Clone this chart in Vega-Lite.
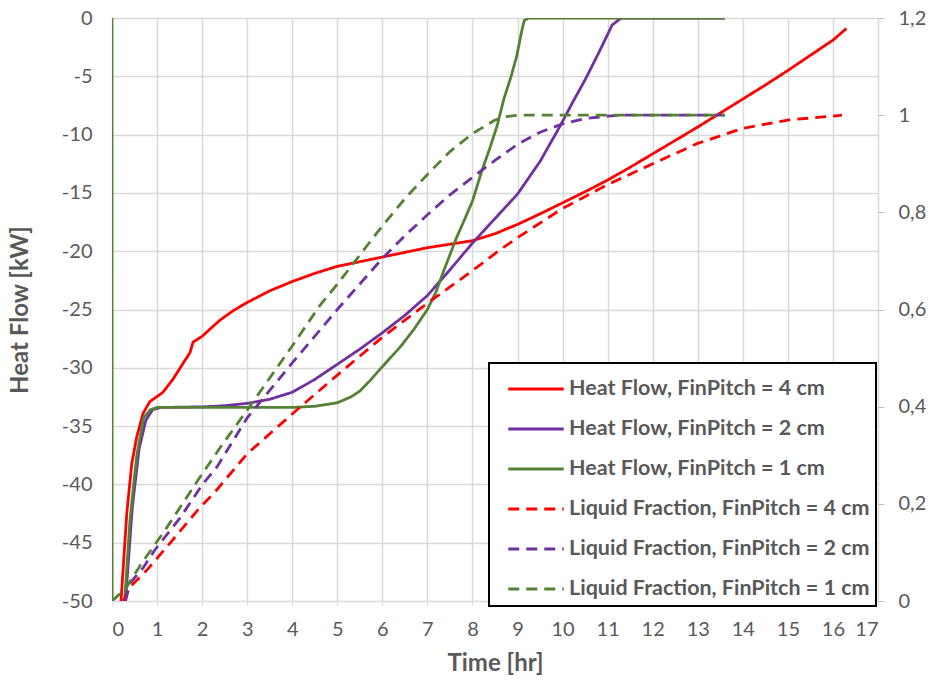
{
  "$schema": "https://vega.github.io/schema/vega-lite/v6.json",
  "width": 766,
  "height": 583,
  "autosize": {"type": "none"},
  "padding": {"left": 112, "top": 18, "right": 55, "bottom": 79},
  "background": "white",
  "config": {
    "view": {"stroke": null},
    "font": "Lato",
    "axis": {
      "labelFont": "Lato",
      "labelFontSize": 20,
      "labelColor": "#595959",
      "titleFont": "Lato",
      "titleFontSize": 24,
      "titleFontWeight": "bold",
      "titleColor": "#595959",
      "gridColor": "#d9d9d9",
      "gridWidth": 1.5,
      "domain": false
    }
  },
  "datasets": {
    "hf": [
      {"s": "Heat Flow, FinPitch = 4 cm", "t": 0.15, "v": -58},
      {"s": "Heat Flow, FinPitch = 4 cm", "t": 0.2, "v": -50},
      {"s": "Heat Flow, FinPitch = 4 cm", "t": 0.33, "v": -42.4},
      {"s": "Heat Flow, FinPitch = 4 cm", "t": 0.44, "v": -38.2},
      {"s": "Heat Flow, FinPitch = 4 cm", "t": 0.55, "v": -35.9},
      {"s": "Heat Flow, FinPitch = 4 cm", "t": 0.69, "v": -33.9},
      {"s": "Heat Flow, FinPitch = 4 cm", "t": 0.84, "v": -32.9},
      {"s": "Heat Flow, FinPitch = 4 cm", "t": 1.13, "v": -32.1},
      {"s": "Heat Flow, FinPitch = 4 cm", "t": 1.35, "v": -31.0},
      {"s": "Heat Flow, FinPitch = 4 cm", "t": 1.58, "v": -29.6},
      {"s": "Heat Flow, FinPitch = 4 cm", "t": 1.73, "v": -28.7},
      {"s": "Heat Flow, FinPitch = 4 cm", "t": 1.8, "v": -27.8},
      {"s": "Heat Flow, FinPitch = 4 cm", "t": 2.0, "v": -27.3},
      {"s": "Heat Flow, FinPitch = 4 cm", "t": 2.17, "v": -26.7},
      {"s": "Heat Flow, FinPitch = 4 cm", "t": 2.4, "v": -25.9},
      {"s": "Heat Flow, FinPitch = 4 cm", "t": 2.69, "v": -25.1},
      {"s": "Heat Flow, FinPitch = 4 cm", "t": 3.0, "v": -24.4},
      {"s": "Heat Flow, FinPitch = 4 cm", "t": 3.5, "v": -23.4},
      {"s": "Heat Flow, FinPitch = 4 cm", "t": 4.0, "v": -22.6},
      {"s": "Heat Flow, FinPitch = 4 cm", "t": 4.5, "v": -21.9},
      {"s": "Heat Flow, FinPitch = 4 cm", "t": 5.0, "v": -21.3},
      {"s": "Heat Flow, FinPitch = 4 cm", "t": 5.5, "v": -20.9},
      {"s": "Heat Flow, FinPitch = 4 cm", "t": 6.0, "v": -20.5},
      {"s": "Heat Flow, FinPitch = 4 cm", "t": 6.5, "v": -20.1},
      {"s": "Heat Flow, FinPitch = 4 cm", "t": 7.0, "v": -19.7},
      {"s": "Heat Flow, FinPitch = 4 cm", "t": 7.5, "v": -19.4},
      {"s": "Heat Flow, FinPitch = 4 cm", "t": 8.0, "v": -19.1},
      {"s": "Heat Flow, FinPitch = 4 cm", "t": 8.5, "v": -18.5},
      {"s": "Heat Flow, FinPitch = 4 cm", "t": 9.0, "v": -17.7},
      {"s": "Heat Flow, FinPitch = 4 cm", "t": 9.5, "v": -16.8},
      {"s": "Heat Flow, FinPitch = 4 cm", "t": 10.0, "v": -15.85},
      {"s": "Heat Flow, FinPitch = 4 cm", "t": 10.5, "v": -14.9},
      {"s": "Heat Flow, FinPitch = 4 cm", "t": 11.0, "v": -13.9},
      {"s": "Heat Flow, FinPitch = 4 cm", "t": 11.5, "v": -12.8},
      {"s": "Heat Flow, FinPitch = 4 cm", "t": 12.0, "v": -11.65},
      {"s": "Heat Flow, FinPitch = 4 cm", "t": 12.5, "v": -10.5},
      {"s": "Heat Flow, FinPitch = 4 cm", "t": 13.0, "v": -9.35},
      {"s": "Heat Flow, FinPitch = 4 cm", "t": 13.5, "v": -8.15},
      {"s": "Heat Flow, FinPitch = 4 cm", "t": 14.0, "v": -6.95},
      {"s": "Heat Flow, FinPitch = 4 cm", "t": 14.5, "v": -5.75},
      {"s": "Heat Flow, FinPitch = 4 cm", "t": 15.0, "v": -4.5},
      {"s": "Heat Flow, FinPitch = 4 cm", "t": 15.5, "v": -3.2},
      {"s": "Heat Flow, FinPitch = 4 cm", "t": 16.0, "v": -1.9},
      {"s": "Heat Flow, FinPitch = 4 cm", "t": 16.3, "v": -0.9},

      {"s": "Heat Flow, FinPitch = 2 cm", "t": 0.25, "v": -58},
      {"s": "Heat Flow, FinPitch = 2 cm", "t": 0.3, "v": -50},
      {"s": "Heat Flow, FinPitch = 2 cm", "t": 0.45, "v": -42},
      {"s": "Heat Flow, FinPitch = 2 cm", "t": 0.6, "v": -37},
      {"s": "Heat Flow, FinPitch = 2 cm", "t": 0.75, "v": -34.5},
      {"s": "Heat Flow, FinPitch = 2 cm", "t": 0.9, "v": -33.6},
      {"s": "Heat Flow, FinPitch = 2 cm", "t": 1.1, "v": -33.4},
      {"s": "Heat Flow, FinPitch = 2 cm", "t": 2.0, "v": -33.35},
      {"s": "Heat Flow, FinPitch = 2 cm", "t": 2.5, "v": -33.25},
      {"s": "Heat Flow, FinPitch = 2 cm", "t": 3.0, "v": -33.05},
      {"s": "Heat Flow, FinPitch = 2 cm", "t": 3.5, "v": -32.7},
      {"s": "Heat Flow, FinPitch = 2 cm", "t": 4.0, "v": -32.1},
      {"s": "Heat Flow, FinPitch = 2 cm", "t": 4.5, "v": -31.0},
      {"s": "Heat Flow, FinPitch = 2 cm", "t": 5.0, "v": -29.7},
      {"s": "Heat Flow, FinPitch = 2 cm", "t": 5.5, "v": -28.4},
      {"s": "Heat Flow, FinPitch = 2 cm", "t": 6.0, "v": -27.0},
      {"s": "Heat Flow, FinPitch = 2 cm", "t": 6.5, "v": -25.5},
      {"s": "Heat Flow, FinPitch = 2 cm", "t": 7.0, "v": -23.8},
      {"s": "Heat Flow, FinPitch = 2 cm", "t": 7.5, "v": -21.6},
      {"s": "Heat Flow, FinPitch = 2 cm", "t": 8.0, "v": -19.3},
      {"s": "Heat Flow, FinPitch = 2 cm", "t": 8.5, "v": -17.2},
      {"s": "Heat Flow, FinPitch = 2 cm", "t": 9.0, "v": -15.1},
      {"s": "Heat Flow, FinPitch = 2 cm", "t": 9.5, "v": -12.3},
      {"s": "Heat Flow, FinPitch = 2 cm", "t": 9.94, "v": -9.3},
      {"s": "Heat Flow, FinPitch = 2 cm", "t": 10.2, "v": -7.4},
      {"s": "Heat Flow, FinPitch = 2 cm", "t": 10.5, "v": -5.3},
      {"s": "Heat Flow, FinPitch = 2 cm", "t": 10.8, "v": -3.0},
      {"s": "Heat Flow, FinPitch = 2 cm", "t": 11.1, "v": -0.6},
      {"s": "Heat Flow, FinPitch = 2 cm", "t": 11.3, "v": 0},
      {"s": "Heat Flow, FinPitch = 2 cm", "t": 13.6, "v": 0},

      {"s": "Heat Flow, FinPitch = 1 cm", "t": 0, "v": 0},
      {"s": "Heat Flow, FinPitch = 1 cm", "t": 0.004, "v": -80},
      {"s": "Heat Flow, FinPitch = 1 cm", "t": 0.24, "v": -58},
      {"s": "Heat Flow, FinPitch = 1 cm", "t": 0.28, "v": -50},
      {"s": "Heat Flow, FinPitch = 1 cm", "t": 0.4, "v": -43},
      {"s": "Heat Flow, FinPitch = 1 cm", "t": 0.55, "v": -37.5},
      {"s": "Heat Flow, FinPitch = 1 cm", "t": 0.7, "v": -34.3},
      {"s": "Heat Flow, FinPitch = 1 cm", "t": 0.85, "v": -33.6},
      {"s": "Heat Flow, FinPitch = 1 cm", "t": 1.0, "v": -33.4},
      {"s": "Heat Flow, FinPitch = 1 cm", "t": 4.0, "v": -33.4},
      {"s": "Heat Flow, FinPitch = 1 cm", "t": 4.5, "v": -33.3},
      {"s": "Heat Flow, FinPitch = 1 cm", "t": 5.0, "v": -33.0},
      {"s": "Heat Flow, FinPitch = 1 cm", "t": 5.3, "v": -32.5},
      {"s": "Heat Flow, FinPitch = 1 cm", "t": 5.5, "v": -32.0},
      {"s": "Heat Flow, FinPitch = 1 cm", "t": 5.75, "v": -31.0},
      {"s": "Heat Flow, FinPitch = 1 cm", "t": 6.0, "v": -29.9},
      {"s": "Heat Flow, FinPitch = 1 cm", "t": 6.4, "v": -28.2},
      {"s": "Heat Flow, FinPitch = 1 cm", "t": 6.7, "v": -26.7},
      {"s": "Heat Flow, FinPitch = 1 cm", "t": 7.0, "v": -25.0},
      {"s": "Heat Flow, FinPitch = 1 cm", "t": 7.2, "v": -23.4},
      {"s": "Heat Flow, FinPitch = 1 cm", "t": 7.35, "v": -21.8},
      {"s": "Heat Flow, FinPitch = 1 cm", "t": 7.5, "v": -20.3},
      {"s": "Heat Flow, FinPitch = 1 cm", "t": 7.65, "v": -18.8},
      {"s": "Heat Flow, FinPitch = 1 cm", "t": 7.8, "v": -17.5},
      {"s": "Heat Flow, FinPitch = 1 cm", "t": 8.0, "v": -15.7},
      {"s": "Heat Flow, FinPitch = 1 cm", "t": 8.2, "v": -13.2},
      {"s": "Heat Flow, FinPitch = 1 cm", "t": 8.4, "v": -11.0},
      {"s": "Heat Flow, FinPitch = 1 cm", "t": 8.55, "v": -9.2},
      {"s": "Heat Flow, FinPitch = 1 cm", "t": 8.7, "v": -6.9},
      {"s": "Heat Flow, FinPitch = 1 cm", "t": 8.85, "v": -5.1},
      {"s": "Heat Flow, FinPitch = 1 cm", "t": 8.98, "v": -3.3},
      {"s": "Heat Flow, FinPitch = 1 cm", "t": 9.1, "v": -1.0},
      {"s": "Heat Flow, FinPitch = 1 cm", "t": 9.15, "v": -0.2},
      {"s": "Heat Flow, FinPitch = 1 cm", "t": 9.25, "v": 0},
      {"s": "Heat Flow, FinPitch = 1 cm", "t": 13.6, "v": 0}
    ],
    "lf": [
      {"s": "Liquid Fraction, FinPitch = 4 cm", "t": 0.25, "v": 0},
      {"s": "Liquid Fraction, FinPitch = 4 cm", "t": 0.4, "v": 0.029},
      {"s": "Liquid Fraction, FinPitch = 4 cm", "t": 0.78, "v": 0.064},
      {"s": "Liquid Fraction, FinPitch = 4 cm", "t": 1.35, "v": 0.126},
      {"s": "Liquid Fraction, FinPitch = 4 cm", "t": 1.9, "v": 0.187},
      {"s": "Liquid Fraction, FinPitch = 4 cm", "t": 2.29, "v": 0.225},
      {"s": "Liquid Fraction, FinPitch = 4 cm", "t": 3.0, "v": 0.303},
      {"s": "Liquid Fraction, FinPitch = 4 cm", "t": 4.0, "v": 0.385},
      {"s": "Liquid Fraction, FinPitch = 4 cm", "t": 5.0, "v": 0.465},
      {"s": "Liquid Fraction, FinPitch = 4 cm", "t": 6.0, "v": 0.543},
      {"s": "Liquid Fraction, FinPitch = 4 cm", "t": 7.0, "v": 0.613},
      {"s": "Liquid Fraction, FinPitch = 4 cm", "t": 8.0, "v": 0.68},
      {"s": "Liquid Fraction, FinPitch = 4 cm", "t": 8.6, "v": 0.722},
      {"s": "Liquid Fraction, FinPitch = 4 cm", "t": 9.0, "v": 0.748},
      {"s": "Liquid Fraction, FinPitch = 4 cm", "t": 10.0, "v": 0.808},
      {"s": "Liquid Fraction, FinPitch = 4 cm", "t": 11.0, "v": 0.857},
      {"s": "Liquid Fraction, FinPitch = 4 cm", "t": 12.0, "v": 0.90},
      {"s": "Liquid Fraction, FinPitch = 4 cm", "t": 13.0, "v": 0.942},
      {"s": "Liquid Fraction, FinPitch = 4 cm", "t": 14.0, "v": 0.973},
      {"s": "Liquid Fraction, FinPitch = 4 cm", "t": 15.0, "v": 0.99},
      {"s": "Liquid Fraction, FinPitch = 4 cm", "t": 16.0, "v": 0.998},
      {"s": "Liquid Fraction, FinPitch = 4 cm", "t": 16.2, "v": 1.0},

      {"s": "Liquid Fraction, FinPitch = 2 cm", "t": 0.3, "v": 0},
      {"s": "Liquid Fraction, FinPitch = 2 cm", "t": 0.4, "v": 0.037},
      {"s": "Liquid Fraction, FinPitch = 2 cm", "t": 0.69, "v": 0.068},
      {"s": "Liquid Fraction, FinPitch = 2 cm", "t": 0.95, "v": 0.105},
      {"s": "Liquid Fraction, FinPitch = 2 cm", "t": 1.51, "v": 0.171},
      {"s": "Liquid Fraction, FinPitch = 2 cm", "t": 2.0, "v": 0.239},
      {"s": "Liquid Fraction, FinPitch = 2 cm", "t": 2.33, "v": 0.276},
      {"s": "Liquid Fraction, FinPitch = 2 cm", "t": 3.0, "v": 0.377},
      {"s": "Liquid Fraction, FinPitch = 2 cm", "t": 4.0, "v": 0.49},
      {"s": "Liquid Fraction, FinPitch = 2 cm", "t": 5.0, "v": 0.60},
      {"s": "Liquid Fraction, FinPitch = 2 cm", "t": 6.0, "v": 0.705},
      {"s": "Liquid Fraction, FinPitch = 2 cm", "t": 6.5, "v": 0.752},
      {"s": "Liquid Fraction, FinPitch = 2 cm", "t": 7.0, "v": 0.795},
      {"s": "Liquid Fraction, FinPitch = 2 cm", "t": 7.5, "v": 0.836},
      {"s": "Liquid Fraction, FinPitch = 2 cm", "t": 8.0, "v": 0.872},
      {"s": "Liquid Fraction, FinPitch = 2 cm", "t": 8.5, "v": 0.907},
      {"s": "Liquid Fraction, FinPitch = 2 cm", "t": 9.0, "v": 0.94},
      {"s": "Liquid Fraction, FinPitch = 2 cm", "t": 9.5, "v": 0.965},
      {"s": "Liquid Fraction, FinPitch = 2 cm", "t": 10.0, "v": 0.982},
      {"s": "Liquid Fraction, FinPitch = 2 cm", "t": 10.5, "v": 0.993},
      {"s": "Liquid Fraction, FinPitch = 2 cm", "t": 11.0, "v": 0.998},
      {"s": "Liquid Fraction, FinPitch = 2 cm", "t": 11.3, "v": 1.0},
      {"s": "Liquid Fraction, FinPitch = 2 cm", "t": 13.6, "v": 1.0},

      {"s": "Liquid Fraction, FinPitch = 1 cm", "t": 0, "v": 0},
      {"s": "Liquid Fraction, FinPitch = 1 cm", "t": 0.3, "v": 0.025},
      {"s": "Liquid Fraction, FinPitch = 1 cm", "t": 0.4, "v": 0.04},
      {"s": "Liquid Fraction, FinPitch = 1 cm", "t": 0.66, "v": 0.078},
      {"s": "Liquid Fraction, FinPitch = 1 cm", "t": 1.18, "v": 0.146},
      {"s": "Liquid Fraction, FinPitch = 1 cm", "t": 1.91, "v": 0.249},
      {"s": "Liquid Fraction, FinPitch = 1 cm", "t": 2.44, "v": 0.321},
      {"s": "Liquid Fraction, FinPitch = 1 cm", "t": 3.0, "v": 0.393},
      {"s": "Liquid Fraction, FinPitch = 1 cm", "t": 4.0, "v": 0.525},
      {"s": "Liquid Fraction, FinPitch = 1 cm", "t": 4.62, "v": 0.609},
      {"s": "Liquid Fraction, FinPitch = 1 cm", "t": 5.0, "v": 0.652},
      {"s": "Liquid Fraction, FinPitch = 1 cm", "t": 5.4, "v": 0.70},
      {"s": "Liquid Fraction, FinPitch = 1 cm", "t": 6.0, "v": 0.772},
      {"s": "Liquid Fraction, FinPitch = 1 cm", "t": 6.5, "v": 0.828},
      {"s": "Liquid Fraction, FinPitch = 1 cm", "t": 7.0, "v": 0.878},
      {"s": "Liquid Fraction, FinPitch = 1 cm", "t": 7.5, "v": 0.925},
      {"s": "Liquid Fraction, FinPitch = 1 cm", "t": 8.0, "v": 0.962},
      {"s": "Liquid Fraction, FinPitch = 1 cm", "t": 8.5, "v": 0.99},
      {"s": "Liquid Fraction, FinPitch = 1 cm", "t": 8.76, "v": 0.997},
      {"s": "Liquid Fraction, FinPitch = 1 cm", "t": 9.0, "v": 1.0},
      {"s": "Liquid Fraction, FinPitch = 1 cm", "t": 13.6, "v": 1.0}
    ]
  },
  "encoding": {
    "x": {
      "field": "t", "type": "quantitative", "title": "Time [hr]",
      "scale": {"domain": [0, 17], "nice": false},
      "axis": {"values": [0,1,2,3,4,5,6,7,8,9,10,11,12,13,14,15,16,17], "grid": true, "ticks": true, "tickSize": 4, "tickColor": "#d9d9d9", "labelPadding": 14, "titleBaseline": "middle", "titleY": 62}
    },
    "color": {
      "field": "s", "type": "nominal",
      "scale": {
        "domain": ["Heat Flow, FinPitch = 4 cm", "Heat Flow, FinPitch = 2 cm", "Heat Flow, FinPitch = 1 cm", "Liquid Fraction, FinPitch = 4 cm", "Liquid Fraction, FinPitch = 2 cm", "Liquid Fraction, FinPitch = 1 cm"],
        "range": ["#ff0000", "#7030a0", "#548235", "#ff0000", "#7030a0", "#548235"]
      },
      "legend": {"title": null, "orient": "none", "legendX": 377, "legendY": 345, "strokeColor": "black", "fillColor": "white", "padding": 6, "rowPadding": 9, "labelFont": "Lato", "labelFontSize": 21.5, "labelFontWeight": "bold", "labelColor": "#595959", "labelLimit": 0, "symbolType": "M-1.5,0H1.5", "symbolSize": 1369, "symbolStrokeWidth": 3, "symbolOffset": 21, "labelOffset": 13, "encode": {"legend": {"update": {"strokeWidth": {"value": 2}}}}}
    },
    "strokeDash": {
      "field": "s", "type": "nominal",
      "scale": {
        "domain": ["Heat Flow, FinPitch = 4 cm", "Heat Flow, FinPitch = 2 cm", "Heat Flow, FinPitch = 1 cm", "Liquid Fraction, FinPitch = 4 cm", "Liquid Fraction, FinPitch = 2 cm", "Liquid Fraction, FinPitch = 1 cm"],
        "range": [[1, 0], [1, 0], [1, 0], [11, 7], [11, 7], [11, 7]]
      },
      "legend": {"title": null, "orient": "none", "legendX": 377, "legendY": 345, "strokeColor": "black", "fillColor": "white", "padding": 6, "rowPadding": 9, "labelFont": "Lato", "labelFontSize": 21.5, "labelFontWeight": "bold", "labelColor": "#595959", "labelLimit": 0, "symbolType": "M-1.5,0H1.5", "symbolSize": 1369, "symbolStrokeWidth": 3, "symbolOffset": 21, "labelOffset": 13, "encode": {"legend": {"update": {"strokeWidth": {"value": 2}}}}}
    }
  },
  "layer": [
    {
      "data": {"name": "hf"},
      "mark": {"type": "line", "clip": true, "strokeWidth": 2.8},
      "encoding": {
        "y": {
          "field": "v", "type": "quantitative", "title": "Heat Flow [kW]",
          "scale": {"domain": [-50, 0], "nice": false},
          "axis": {"values": [-50,-45,-40,-35,-30,-25,-20,-15,-10,-5,0], "grid": true, "ticks": false, "tickSize": 0, "labelPadding": 20, "labelExpr": "replace(datum.label, '\u2212', '-')", "titleX": -92, "titleY": 291.5, "titleBaseline": "middle", "titleAngle": -90, "titleAnchor": "middle"}
        }
      }
    },
    {
      "data": {"name": "lf"},
      "mark": {"type": "line", "clip": true, "strokeWidth": 2.8},
      "encoding": {
        "y": {
          "field": "v", "type": "quantitative", "title": null,
          "scale": {"domain": [0, 1.2], "nice": false},
          "axis": {"orient": "right", "values": [0, 0.2, 0.4, 0.6, 0.8, 1, 1.2], "grid": false, "ticks": true, "tickSize": 6, "tickColor": "#bfbfbf", "labelPadding": 14, "labelExpr": "replace(format(datum.value, '.1~f'), '.', ',')"}
        }
      }
    }
  ],
  "resolve": {"scale": {"y": "independent"}}
}
